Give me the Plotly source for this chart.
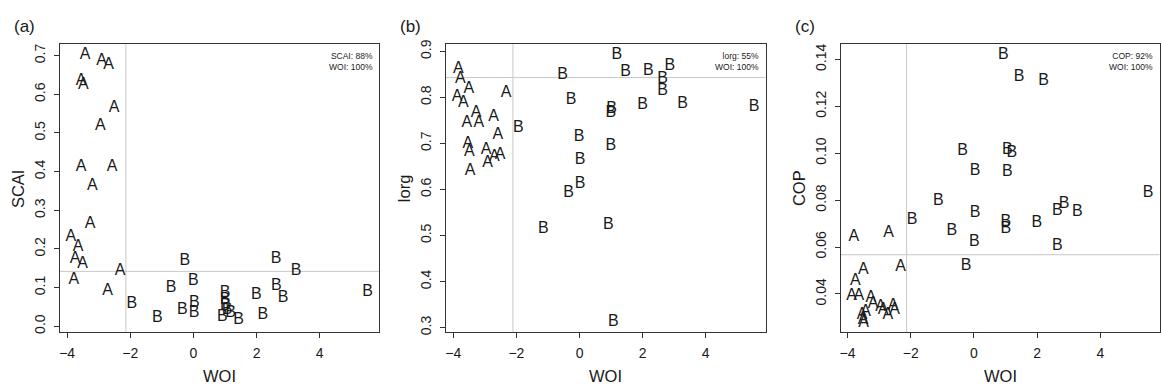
import plotly.graph_objects as go

W, H = 1161, 389

# ---------------- data ----------------
a_A_x = [-3.43, -2.91, -2.69, -3.56, -3.49, -2.51, -2.95, -3.56, -2.58, -3.20, -3.27, -3.88, -3.65, -3.75, -3.51, -3.79, -2.32, -2.72]
a_A_y = [0.703, 0.687, 0.676, 0.635, 0.624, 0.564, 0.517, 0.411, 0.411, 0.364, 0.265, 0.231, 0.206, 0.174, 0.160, 0.120, 0.143, 0.092]
a_B_x = [-1.95, -1.14, -0.71, -0.27, -0.35, 0.0, 0.03, 0.02, 1.0, 1.0, 1.01, 0.92, 1.07, 1.18, 1.43, 1.99, 2.2, 2.62, 3.25, 2.63, 2.84, 5.52]
a_B_y = [0.058, 0.022, 0.100, 0.168, 0.041, 0.117, 0.060, 0.033, 0.085, 0.067, 0.052, 0.025, 0.041, 0.033, 0.016, 0.081, 0.028, 0.175, 0.143, 0.104, 0.073, 0.088]

b_A_x = [-3.84, -3.78, -3.51, -3.88, -3.68, -2.33, -3.28, -3.57, -3.19, -2.72, -2.59, -3.54, -3.49, -2.96, -2.70, -2.52, -2.91, -3.47]
b_A_y = [0.862, 0.840, 0.818, 0.800, 0.788, 0.809, 0.766, 0.745, 0.745, 0.757, 0.719, 0.698, 0.681, 0.686, 0.671, 0.675, 0.657, 0.641]
b_B_x = [-0.54, -0.27, -1.94, -0.01, 0.02, 0.02, -0.35, 1.18, 1.46, 2.18, 2.86, 2.63, 2.63, 1.02, 0.99, 2.0, 3.27, 5.53, 0.99, -1.15, 0.91, 1.07]
b_B_y = [0.848, 0.794, 0.733, 0.713, 0.664, 0.612, 0.593, 0.893, 0.854, 0.857, 0.869, 0.839, 0.813, 0.775, 0.767, 0.784, 0.786, 0.779, 0.694, 0.515, 0.522, 0.311]

c_A_x = [-3.80, -2.70, -2.32, -3.50, -3.75, -3.87, -3.64, -3.26, -3.19, -2.95, -2.87, -2.56, -2.51, -2.72, -3.43, -3.54, -3.51, -3.49]
c_A_y = [0.0641, 0.0660, 0.0514, 0.0500, 0.0453, 0.0393, 0.0393, 0.0383, 0.0358, 0.0344, 0.0330, 0.0347, 0.0333, 0.0309, 0.0324, 0.0309, 0.0289, 0.0275]
c_B_x = [0.93, 1.43, 2.20, -0.36, 1.06, 1.20, 0.04, 1.06, 5.51, -1.96, -1.13, -0.70, 0.04, 0.01, -0.25, 1.01, 1.01, 1.99, 2.64, 2.85, 3.27, 2.64]
c_B_y = [0.1420, 0.1326, 0.1309, 0.1010, 0.1012, 0.1003, 0.0926, 0.0919, 0.0831, 0.0717, 0.0797, 0.0669, 0.0745, 0.0623, 0.0521, 0.0706, 0.0678, 0.0702, 0.0755, 0.0783, 0.0748, 0.0605]

panel_labels = ["(a)", "(b)", "(c)"]
y_titles = ["SCAI", "lorg", "COP"]
x_title = "WOI"
stats_text = ["SCAI: 88%<br>WOI: 100%", "lorg: 55%<br>WOI: 100%", "COP: 92%<br>WOI: 100%"]
x_ticks = [-4, -2, 0, 2, 4]
y_ticks = [[0.0, 0.1, 0.2, 0.3, 0.4, 0.5, 0.6, 0.7],
           [0.3, 0.4, 0.5, 0.6, 0.7, 0.8, 0.9],
           [0.04, 0.06, 0.08, 0.10, 0.12, 0.14]]
y_fmt = [".1f", ".1f", ".2f"]
vline_x = [-2.14, -2.11, -2.13]
hline_y = [0.142, 0.843, 0.0567]

# ---------------- layout geometry (pixels) ----------------
px_left = [59, 445.7, 841.3]
px_right = [378.7, 766, 1160.5]
px_top, px_bottom = 40, 334
x_ranges = [[-4.23, 5.88], [-4.234, 5.90], [-4.21, 5.87]]
y_ranges = [[-0.0152, 0.7297], [0.290, 0.9155], [0.0237, 0.1465]]

FONT = "Liberation Sans, Arial, Helvetica, sans-serif"
INK = "#1a1a1a"

fig = go.Figure()
series = [(a_A_x, a_A_y, a_B_x, a_B_y), (b_A_x, b_A_y, b_B_x, b_B_y), (c_A_x, c_A_y, c_B_x, c_B_y)]

shapes = []
annotations = []
for i, (ax_, ay_, bx_, by_) in enumerate(series):
    sfx = "" if i == 0 else str(i + 1)
    xa, ya = "x" + sfx, "y" + sfx
    for xs, ys, lab in [(ax_, ay_, "A"), (bx_, by_, "B")]:
        fig.add_trace(go.Scatter(
            x=xs, y=ys, mode="text", text=[lab] * len(xs),
            textposition="middle center",
            textfont=dict(family=FONT, size=16, color=INK),
            xaxis=xa, yaxis=ya, showlegend=False, hoverinfo="skip"))
    common = dict(showgrid=False, zeroline=False, showline=True, mirror=True,
                  linecolor="#333333", linewidth=1, ticks="outside", ticklen=5,
                  tickcolor="#333333", ticklabelstandoff=3,
                  tickfont=dict(family=FONT, size=14, color=INK))
    fig.layout["xaxis" + sfx] = dict(
        domain=[px_left[i] / W, px_right[i] / W], range=x_ranges[i],
        anchor=ya, tickvals=x_ticks, **common)
    fig.layout["yaxis" + sfx] = dict(
        domain=[1 - px_bottom / H, 1 - px_top / H], range=y_ranges[i],
        anchor=xa, tickvals=y_ticks[i], tickformat=y_fmt[i], tickangle=-90, **common)
    # reference lines
    shapes.append(dict(type="line", xref=xa, yref=ya + " domain", x0=vline_x[i], x1=vline_x[i],
                       y0=0, y1=1, line=dict(color="#c8c8c8", width=1), layer="below"))
    shapes.append(dict(type="line", xref=xa + " domain", yref=ya, x0=0, x1=1,
                       y0=hline_y[i], y1=hline_y[i], line=dict(color="#c8c8c8", width=1), layer="below"))
    # stats text
    annotations.append(dict(text=stats_text[i], xref="paper", yref="paper",
                            x=(px_right[i] - 4.5) / W, y=1 - 45 / H, xanchor="right", yanchor="top",
                            align="right", showarrow=False,
                            font=dict(family=FONT, size=8.5, color=INK)))
    # panel label
    annotations.append(dict(text=panel_labels[i], xref="paper", yref="paper",
                            x=(px_left[i] - 48) / W, y=1 - 22 / H, xanchor="left", yanchor="middle",
                            showarrow=False, font=dict(family=FONT, size=17, color=INK)))
    # x title
    cx = (px_left[i] + px_right[i]) / 2
    annotations.append(dict(text=x_title, xref="paper", yref="paper",
                            x=cx / W, y=1 - 379 / H, xanchor="center", yanchor="middle",
                            showarrow=False, font=dict(family=FONT, size=16.5, color=INK)))
    # y title
    annotations.append(dict(text=y_titles[i], xref="paper", yref="paper",
                            x=(px_left[i] - 42) / W, y=1 - 187 / H, xanchor="center", yanchor="middle",
                            textangle=-90, showarrow=False, font=dict(family=FONT, size=16.5, color=INK)))

fig.update_layout(width=W, height=H, margin=dict(l=0, r=0, t=0, b=0),
                  plot_bgcolor="white", paper_bgcolor="white",
                  shapes=shapes, annotations=annotations)

fig.write_html("out.html")
